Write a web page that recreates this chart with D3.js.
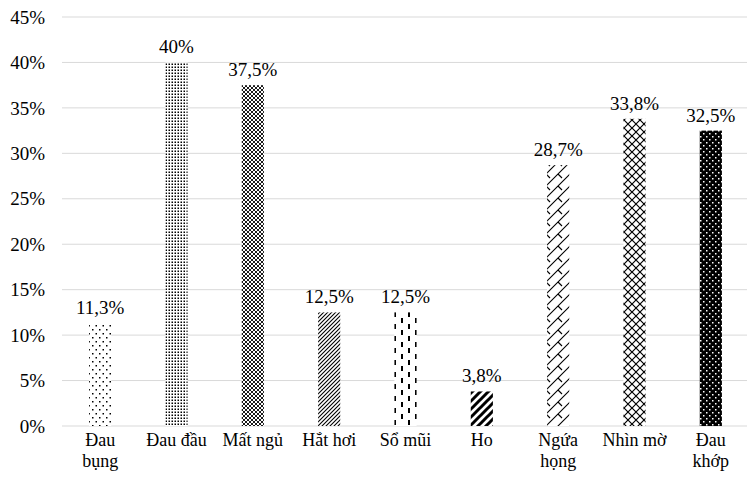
<!DOCTYPE html>
<html>
<head>
<meta charset="utf-8">
<script src="https://cdn.jsdelivr.net/npm/d3@7"></script>
<style>
  body { margin: 0; background: #fff; }
</style>
</head>
<body>
<div id="chart"></div>
<script>
// data
const categories = ["Đau\nbụng", "Đau đầu", "Mất ngủ", "Hắt hơi", "Sổ mũi", "Ho", "Ngứa\nhọng", "Nhìn mờ", "Đau\nkhớp"];
const values = [11.3, 40, 37.5, 12.5, 12.5, 3.8, 28.7, 33.8, 32.5];
const yTicks = [0, 5, 10, 15, 20, 25, 30, 35, 40, 45];

// chart dimensions
const width = 747;
const height = 480;
const plot = { left: 62, right: 749, top: 17, bottom: 426 };
const fontFamily = "Liberation Serif";

const svg = d3.select("#chart")
  .append("svg")
  .attr("width", width)
  .attr("height", height)
  .attr("font-family", fontFamily);

// fill patterns, one per bar
const defs = svg.append("defs");

function addPattern(id, w, h, draw) {
  const p = defs.append("pattern")
    .attr("id", id)
    .attr("patternUnits", "userSpaceOnUse")
    .attr("width", w)
    .attr("height", h);
  p.append("rect").attr("width", w).attr("height", h).attr("fill", "#fff");
  draw(p);
}

// sparse dots
addPattern("p0", 7, 8, p => {
  p.append("rect").attr("x", 1).attr("y", 1).attr("width", 1.5).attr("height", 1.5).attr("fill", "#000");
  p.append("rect").attr("x", 4.5).attr("y", 5).attr("width", 1.5).attr("height", 1.5).attr("fill", "#000");
});
// dense dots
addPattern("p1", 3, 3, p => {
  p.append("rect").attr("x", 0.5).attr("y", 0.5).attr("width", 1.5).attr("height", 1.5).attr("fill", "#000");
});
// small diamond grid
addPattern("p2", 4, 4, p => {
  p.append("path").attr("d", "M0,0L4,4M4,0L0,4").attr("stroke", "#000").attr("stroke-width", 0.9);
});
// thin upward diagonal
addPattern("p3", 4, 4, p => {
  p.append("path").attr("d", "M-1,1L1,-1M0,4L4,0M3,5L5,3").attr("stroke", "#000").attr("stroke-width", 1.1);
});
// dashed vertical
addPattern("p4", 14, 12, p => {
  p.append("rect").attr("x", 2).attr("y", 0).attr("width", 2).attr("height", 5).attr("fill", "#000");
  p.append("rect").attr("x", 9).attr("y", 6).attr("width", 2).attr("height", 5).attr("fill", "#000");
});
// wide upward diagonal
addPattern("p5", 8, 8, p => {
  p.append("path").attr("d", "M-2,2L2,-2M0,8L8,0M6,10L10,6").attr("stroke", "#000").attr("stroke-width", 3);
});
// shingle
addPattern("p6", 12, 12, p => {
  p.append("path").attr("d", "M0,12L12,0M-1,1L1,-1M11,13L13,11M6,6L10,10")
    .attr("stroke", "#000").attr("stroke-width", 1.1).attr("fill", "none");
});
// outlined diamond
addPattern("p7", 8, 8, p => {
  p.append("path").attr("d", "M0,0L8,8M8,0L0,8").attr("stroke", "#000").attr("stroke-width", 1.2);
});
// black with white dots
addPattern("p8", 6, 6, p => {
  p.append("rect").attr("width", 6).attr("height", 6).attr("fill", "#000");
  p.append("rect").attr("x", 1).attr("y", 1).attr("width", 1.5).attr("height", 1.5).attr("fill", "#fff");
  p.append("rect").attr("x", 4).attr("y", 4).attr("width", 1.5).attr("height", 1.5).attr("fill", "#fff");
});

// scales
const xScale = d3.scaleBand()
  .domain(categories)
  .range([plot.left, plot.right])
  .paddingInner(0.71)
  .paddingOuter(0.355);

const yScale = d3.scaleLinear()
  .domain([0, 45])
  .range([plot.bottom, plot.top]);

// gridlines
svg.append("g")
  .selectAll("line")
  .data(yTicks)
  .join("line")
  .attr("x1", plot.left)
  .attr("x2", width)
  .attr("y1", d => yScale(d))
  .attr("y2", d => yScale(d))
  .attr("stroke", "#d9d9d9")
  .attr("stroke-width", 1);

// y axis labels
svg.append("g")
  .selectAll("text")
  .data(yTicks)
  .join("text")
  .attr("x", 45)
  .attr("y", d => yScale(d))
  .attr("dy", "0.35em")
  .attr("text-anchor", "end")
  .attr("font-size", "19px")
  .text(d => d + "%");

// bars
svg.append("g")
  .selectAll("rect")
  .data(values)
  .join("rect")
  .attr("x", (d, i) => xScale(categories[i]))
  .attr("y", d => yScale(d))
  .attr("width", xScale.bandwidth())
  .attr("height", d => plot.bottom - yScale(d))
  .attr("fill", (d, i) => `url(#p${i})`);

// value labels
svg.append("g")
  .selectAll("text")
  .data(values)
  .join("text")
  .attr("x", (d, i) => xScale(categories[i]) + xScale.bandwidth() / 2)
  .attr("y", d => yScale(d) - 9)
  .attr("text-anchor", "middle")
  .attr("font-size", "19px")
  .text(d => String(d).replace(".", ",") + "%");

// category labels
const catLabels = svg.append("g")
  .selectAll("text")
  .data(categories)
  .join("text")
  .attr("x", d => xScale(d) + xScale.bandwidth() / 2)
  .attr("y", 446)
  .attr("text-anchor", "middle")
  .attr("font-size", "18px");

catLabels.selectAll("tspan")
  .data(d => d.split("\n"))
  .join("tspan")
  .attr("x", function () { return d3.select(this.parentNode).attr("x"); })
  .attr("dy", (d, i) => i === 0 ? 0 : "1.15em")
  .text(d => d);
</script>
</body>
</html>
